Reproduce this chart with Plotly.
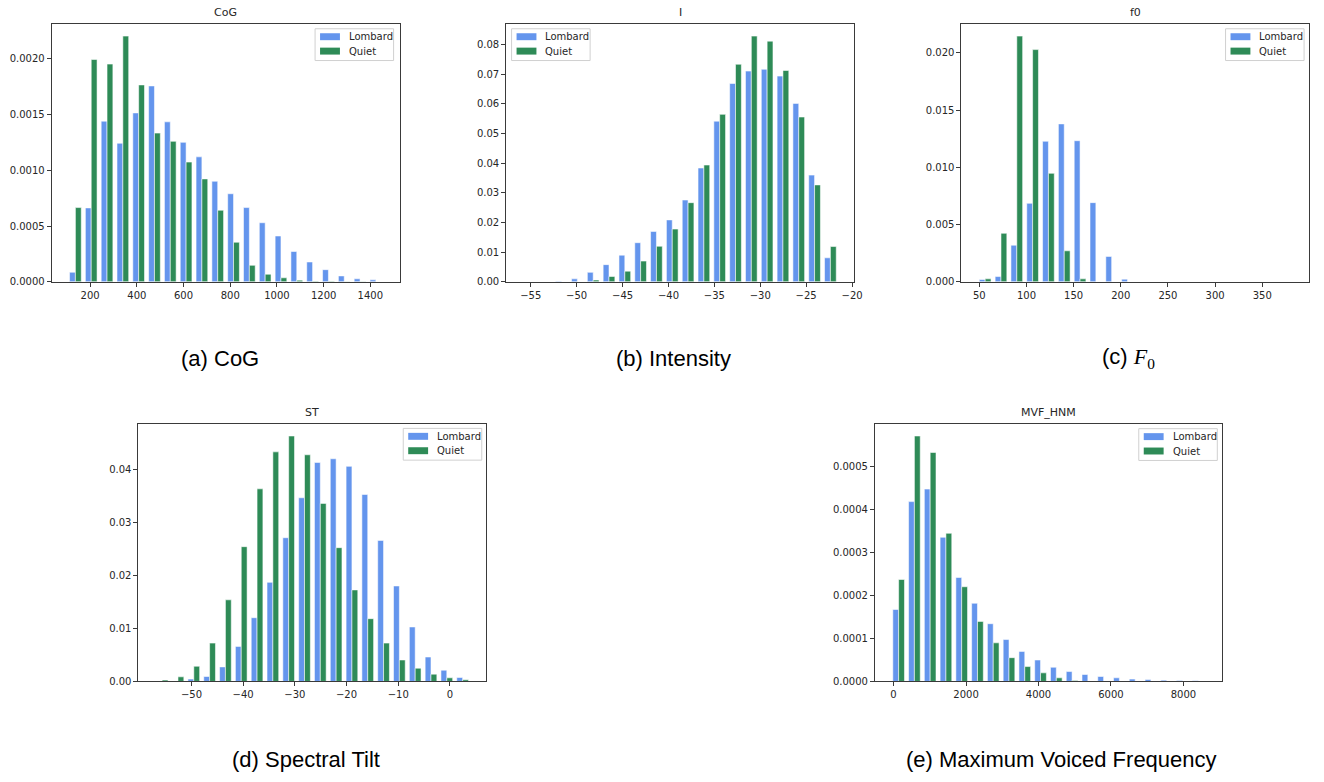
import numpy as np
import plotly.graph_objects as go

W, H = 1324, 782

LOMBARD_COLOR = "#6495ED"
QUIET_COLOR = "#2E8B57"
SERIES_NAMES = ["Lombard", "Quiet"]
SERIES_COLORS = [LOMBARD_COLOR, QUIET_COLOR]

# ---- CoG (centre of gravity) : 20 density bins ----
cog_bin_range = (103.0, 1457.5)
cog_lombard = [0.000086, 0.000663, 0.001441, 0.001243, 0.001515, 0.001757, 0.001435,
               0.001251, 0.001121, 0.000902, 0.000790, 0.000666, 0.000530, 0.000411,
               0.000272, 0.000178, 0.000109, 0.000053, 0.000027, 0.000018]
cog_quiet = [0.000666, 0.001994, 0.001953, 0.002204, 0.001766, 0.001334, 0.001260,
             0.001074, 0.000923, 0.000642, 0.000355, 0.000148, 0.000068, 0.000036,
             0.000015, 0.000006, 0.000005, 0.000003, 0.000002, 0.000001]
cog_xticks = [200, 400, 600, 800, 1000, 1200, 1400]
cog_yticks = [0.0, 0.0005, 0.0010, 0.0015, 0.0020]

# ---- Intensity ----
int_bin_range = (-55.95, -21.5)
int_lombard = [0.00003, 0.00005, 0.0002, 0.0010, 0.0032, 0.0058, 0.0090, 0.0132, 0.0170,
               0.0209, 0.0276, 0.0384, 0.0542, 0.0669, 0.0711, 0.0717, 0.0694, 0.0602,
               0.0360, 0.0081]
int_quiet = [0.0, 0.0, 0.00002, 0.00005, 0.0006, 0.0018, 0.0036, 0.0070, 0.0120, 0.0178,
             0.0267, 0.0394, 0.0565, 0.0734, 0.0829, 0.0812, 0.0713, 0.0556, 0.0327,
             0.0119]
int_xticks = [-55, -50, -45, -40, -35, -30, -25, -20]
int_yticks = [0.00, 0.01, 0.02, 0.03, 0.04, 0.05, 0.06, 0.07, 0.08]

# ---- F0 ----
f0_bin_range = (47.8, 383.2)
f0_lombard = [0.00020, 0.00046, 0.00320, 0.00686, 0.01228, 0.01380, 0.01233, 0.00692,
              0.00222, 0.00023, 0.00001, 0.00001, 0.0, 0.0, 0.0, 0.0, 0.0, 0.0, 0.0,
              0.00001]
f0_quiet = [0.00026, 0.00424, 0.02147, 0.02029, 0.00948, 0.00271, 0.00026, 0.00001,
            0.0, 0.0, 0.0, 0.0, 0.0, 0.0, 0.0, 0.0, 0.0, 0.0, 0.0, 0.0]
f0_xticks = [50, 100, 150, 200, 250, 300, 350]
f0_yticks = [0.000, 0.005, 0.010, 0.015, 0.020]

# ---- Spectral tilt ----
st_bin_range = (-57.2, 3.99)
st_lombard = [0.00002, 0.00008, 0.00044, 0.00093, 0.00274, 0.00660, 0.01200, 0.01866,
              0.02706, 0.03459, 0.04124, 0.04193, 0.04050, 0.03521, 0.02656, 0.01798,
              0.01026, 0.00460, 0.00212, 0.00075]
st_quiet = [0.00025, 0.00087, 0.00286, 0.00722, 0.01537, 0.02538, 0.03627, 0.04323,
            0.04622, 0.04268, 0.03353, 0.02519, 0.01723, 0.01182, 0.00722, 0.00404,
            0.00249, 0.00137, 0.00068, 0.00031]
st_xticks = [-50, -40, -30, -20, -10, 0]
st_yticks = [0.00, 0.01, 0.02, 0.03, 0.04]

# ---- Maximum voiced frequency (HNM) ----
mvf_bin_range = (-77.0, 8625.0)
mvf_lombard = [0.0001674, 0.0004186, 0.0004478, 0.0003356, 0.0002419, 0.0001820,
               0.0001344, 0.0000975, 0.0000699, 0.0000499, 0.0000330, 0.0000230,
               0.0000161, 0.0000115, 0.0000084, 0.0000054, 0.0000046, 0.0000030,
               0.0000023, 0.0000015]
mvf_quiet = [0.0002373, 0.0005714, 0.0005330, 0.0003449, 0.0002204, 0.0001398,
             0.0000899, 0.0000553, 0.0000346, 0.0000200, 0.0000084, 0.0000023,
             0.0000010, 0.0000005, 0.0000002, 0.0, 0.0, 0.0, 0.0, 0.0]
mvf_xticks = [0, 2000, 4000, 6000, 8000]
mvf_yticks = [0.0, 0.0001, 0.0002, 0.0003, 0.0004, 0.0005]

panels = [
    dict(title="CoG", caption="(a) CoG", bins=cog_bin_range,
         series=(cog_lombard, cog_quiet), xticks=cog_xticks, yticks=cog_yticks,
         yfmt="{:.4f}", box=(52, 24, 402, 284), legend=(317, 29), cap=(221, 361)),
    dict(title="I", caption="(b) Intensity", bins=int_bin_range,
         series=(int_lombard, int_quiet), xticks=int_xticks, yticks=int_yticks,
         yfmt="{:.2f}", box=(509.3, 24, 859.3, 284), legend=(514.7, 29), cap=(678, 361)),
    dict(title="f0",
         caption="(c) <span style='font-family:Liberation Serif'><i>F</i><sub>0</sub></span>",
         bins=f0_bin_range, series=(f0_lombard, f0_quiet), xticks=f0_xticks,
         yticks=f0_yticks, yfmt="{:.3f}", box=(967.3, 24, 1317.3, 284),
         legend=(1233, 29), cap=(1135, 361)),
    dict(title="ST", caption="(d) Spectral Tilt", bins=st_bin_range,
         series=(st_lombard, st_quiet), xticks=st_xticks, yticks=st_yticks,
         yfmt="{:.2f}", box=(139.3, 427, 489.3, 686.7), legend=(405.7, 431.7),
         cap=(308, 765)),
    dict(title="MVF_HNM", caption="(e) Maximum Voiced Frequency", bins=mvf_bin_range,
         series=(mvf_lombard, mvf_quiet), xticks=mvf_xticks, yticks=mvf_yticks,
         yfmt="{:.4f}", box=(880.3, 427, 1229.3, 686.7), legend=(1145.7, 432),
         cap=(1068, 765)),
]

TICK_FONT = dict(family="DejaVu Sans", size=10, color="#262626")
TEXT_COLOR = "#262626"
AXIS_COLOR = "#3a3a3a"

# legend box geometry (pixels)
LEG_W, LEG_H = 79, 32
LEG_PATCH_X, LEG_PATCH_W, LEG_PATCH_H = 5, 20, 7
LEG_ROW_Y = [8, 22.5]
LEG_TEXT_X = 32


def fmt_tick(v):
    return str(v).replace("-", "\u2212")


def px(x):
    return x / W


def py(y):
    return 1 - y / H


fig = go.Figure()
layout = dict(
    width=W, height=H, margin=dict(l=0, r=0, t=0, b=0),
    paper_bgcolor="white", plot_bgcolor="white",
    barmode="group", bargap=0.26, bargroupgap=0.0,
    showlegend=False,
)
annotations = []
shapes = []

for i, p in enumerate(panels, start=1):
    sfx = "" if i == 1 else str(i)
    xa, ya = "x" + sfx, "y" + sfx

    lo, hi = p["bins"]
    n = len(p["series"][0])
    edges = np.linspace(lo, hi, n + 1)
    centers = (edges[:-1] + edges[1:]) / 2

    for name, vals, color in zip(SERIES_NAMES, p["series"], SERIES_COLORS):
        fig.add_trace(go.Bar(
            x=centers, y=vals, name=name, xaxis=xa, yaxis=ya,
            marker=dict(color=color, line=dict(color="rgba(255,255,255,0.55)", width=1)),
            hoverinfo="name+x+y",
        ))

    x0, y0, x1, y1 = p["box"]
    span = hi - lo
    ymax = 1.05 * max(max(s) for s in p["series"])
    common = dict(
        showline=True, linecolor=AXIS_COLOR, linewidth=1, mirror=True,
        showgrid=False, zeroline=False, ticks="outside", ticklen=4, tickwidth=1,
        tickcolor=AXIS_COLOR, tickfont=TICK_FONT,
    )
    layout["xaxis" + sfx] = dict(
        common, domain=[px(x0), px(x1)], anchor=ya,
        range=[lo - 0.05 * span, hi + 0.05 * span],
        tickmode="array", tickvals=p["xticks"],
        ticktext=[fmt_tick(v) for v in p["xticks"]],
    )
    layout["yaxis" + sfx] = dict(
        common, domain=[py(y1), py(y0)], anchor=xa,
        range=[0, ymax], tickmode="array", tickvals=p["yticks"],
        ticktext=[p["yfmt"].format(v) for v in p["yticks"]],
    )

    # legend: framed box with a colour patch and label per series
    lx, ly = p["legend"]
    shapes.append(dict(
        type="rect", xref="paper", yref="paper",
        x0=px(lx), x1=px(lx + LEG_W), y0=py(ly + LEG_H), y1=py(ly),
        line=dict(color="#d0d0d0", width=1), fillcolor="rgba(255,255,255,0.85)",
        layer="above",
    ))
    for name, color, ry in zip(SERIES_NAMES, SERIES_COLORS, LEG_ROW_Y):
        shapes.append(dict(
            type="rect", xref="paper", yref="paper",
            x0=px(lx + LEG_PATCH_X), x1=px(lx + LEG_PATCH_X + LEG_PATCH_W),
            y0=py(ly + ry + LEG_PATCH_H / 2), y1=py(ly + ry - LEG_PATCH_H / 2),
            line=dict(width=0), fillcolor=color, layer="above",
        ))
        annotations.append(dict(
            text=name, x=px(lx + LEG_TEXT_X), y=py(ly + ry), xref="paper", yref="paper",
            xanchor="left", yanchor="middle", showarrow=False,
            font=dict(family="DejaVu Sans", size=10, color=TEXT_COLOR),
        ))

    # axes title
    annotations.append(dict(
        text=p["title"], x=px((x0 + x1) / 2), y=py(y0), xref="paper", yref="paper",
        xanchor="center", yanchor="bottom", yshift=3, showarrow=False,
        font=dict(family="DejaVu Sans", size=11, color=TEXT_COLOR),
    ))
    # panel caption
    annotations.append(dict(
        text=p["caption"], x=px(p["cap"][0]), y=py(p["cap"][1]),
        xref="paper", yref="paper", xanchor="center", yanchor="middle",
        showarrow=False, font=dict(family="Liberation Sans", size=22, color="black"),
    ))

layout["annotations"] = annotations
layout["shapes"] = shapes
fig.update_layout(**layout)
fig.write_html("out.html")
